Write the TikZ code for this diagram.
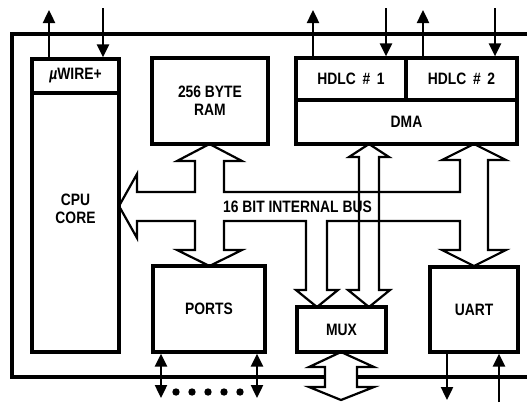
\documentclass[tikz,border=0pt]{standalone}
\usepackage{fontspec}
\setmainfont{Liberation Sans}[FakeStretch=0.84]
\usetikzlibrary{arrows.meta,calc}

\begin{document}
\begin{tikzpicture}[x=1pt,y=-1pt,
    blk/.style={draw, line width=3.2pt, inner sep=0pt, align=center,
      font=\bfseries\fontsize{16.5}{18}\selectfont},
    lbl/.style={align=center, font=\bfseries\fontsize{16.5}{18}\selectfont},
    pin/.style={line width=2.4pt, -{Triangle[length=13pt,width=12pt]}},
    pintwo/.style={line width=2.4pt,
      {Triangle[length=13pt,width=12pt]}-{Triangle[length=13pt,width=12pt]}},
    wide/.style={line width=2.2pt, line join=miter}]
    \useasboundingbox (0,0) rectangle (527,402);
    % frame, open on the right
    \draw[line width=3.2pt] (527,34) -- (12,34) -- (12,377) -- (325,377);
    \draw[line width=3.2pt] (357,377) -- (527,377);
    % blocks
    \node[blk, minimum width=87pt, minimum height=34pt] (uwire) at (75.5,76) {\textit{µ}WIRE+};
    \node[blk, minimum width=87pt, minimum height=259pt] (cpu) at (75.5,222.5) {};
    \node[lbl] (cpulbl) at (75.5,209) {CPU\\CORE};
    \node[blk, minimum width=116pt, minimum height=86pt] (ram) at (210,101) {256 BYTE\\RAM};
    \node[blk, minimum width=110pt, minimum height=42pt] (hdlc1) at (351,79) {HDLC \,\# \,1};
    \node[blk, minimum width=111pt, minimum height=42pt] (hdlc2) at (461.5,79) {HDLC \,\# \,2};
    \node[blk, minimum width=221pt, minimum height=44pt] (dma) at (406.5,122) {DMA};
    \node[blk, minimum width=112pt, minimum height=86pt] (ports) at (209,309) {PORTS};
    \node[blk, minimum width=89pt, minimum height=45pt] (mux) at (341.5,329.5) {MUX};
    \node[blk, minimum width=88pt, minimum height=85pt] (uart) at (474,309.5) {UART};
    % internal bus with its branches
    \draw[wide] (195,192) -- (195,161) -- (177,161) -- (209.5,144) -- (242,161) -- (224,161)
      -- (224,192) -- (460,192) -- (460,160) -- (442,160) -- (474,144) -- (506,160) -- (488,160)
      -- (488,250) -- (506,250) -- (474,266) -- (442,250) -- (460,250) -- (460,221)
      -- (327,221) -- (327,290) -- (338,290) -- (317,307) -- (296,290) -- (306,290) -- (306,221)
      -- (224,221) -- (224,250) -- (242,250) -- (209.5,266) -- (177,250) -- (195,250) -- (195,221)
      -- (137,221) -- (137,238) -- (119,206) -- (137,174) -- (137,192) -- cycle;
    \node[lbl] (buslbl) at (297.5,207) {16 BIT INTERNAL BUS};
    % DMA to MUX
    \draw[wide] (359,157) -- (349,157) -- (369,144) -- (389,157) -- (379,157) -- (379,290)
      -- (390,290) -- (369,307) -- (348,290) -- (359,290) -- cycle;
    % MUX to outside
    \draw[wide] (325,377) -- (325,367) -- (309,367) -- (341,352) -- (374,367) -- (357,367)
      -- (357,387) -- (374,387) -- (341,400) -- (309,387) -- (325,387) -- cycle;
    % pins
    \coordinate (uwout) at (49,10);
    \coordinate (uwin) at (103,8);
    \draw[pin] (uwout |- uwire.north) -- (uwout);
    \draw[pin] (uwin) -- (uwin |- uwire.north);
    \coordinate (hdaout) at (313,10);
    \coordinate (hdain) at (386,8);
    \coordinate (hdbout) at (423,10);
    \coordinate (hdbin) at (495,8);
    \draw[pin] (hdaout |- hdlc1.north) -- (hdaout);
    \draw[pin] (hdain) -- (hdain |- hdlc1.north);
    \draw[pin] (hdbout |- hdlc2.north) -- (hdbout);
    \draw[pin] (hdbin) -- (hdbin |- hdlc2.north);
    \coordinate (pa) at (161,398);
    \coordinate (pb) at (257,398);
    \draw[pintwo] (pa |- ports.south) -- (pa);
    \draw[pintwo] (pb |- ports.south) -- (pb);
    \foreach \x in {176,192,208,224,240}
      \fill (\x,392) circle (3.7pt);
    \coordinate (uaout) at (447,400);
    \coordinate (uain) at (499,402);
    \draw[pin] (uaout |- uart.south) -- (uaout);
    \draw[pin] (uain) -- (uain |- uart.south);
\end{tikzpicture}
\end{document}
